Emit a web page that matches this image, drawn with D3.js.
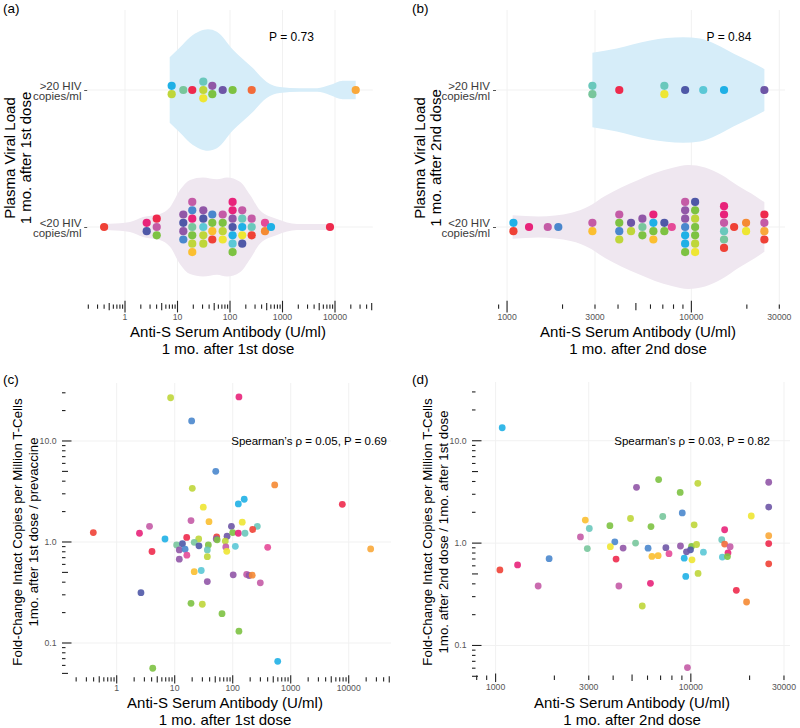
<!DOCTYPE html>
<html>
<head>
<meta charset="utf-8">
<script src="https://cdn.jsdelivr.net/npm/d3@7"></script>
<style>
body { margin: 0; background: #fff; }
svg { display: block; font-family: "Liberation Sans", Arial, Helvetica, sans-serif; }
</style>
</head>
<body>
<svg id="fig" width="800" height="728"></svg>
<script>
// ---------- data ----------
var rows = [">20", "<20"];
var rowText = { ">20": [">20 HIV", "copies/ml"], "<20": ["<20 HIV", "copies/ml"] };

// (a) anti-S after 1st dose, beeswarm columns (top to bottom within a column)
var aHiVal = [7.74, 7.74, 12.9, 19.1, 31, 31, 31, 46, 46, 72.6, 112, 259, 24800];
var aHiCol = ["sky", "lime", "mint", "crimson", "teal", "lime", "yellow", "purple", "green", "violet", "green", "vermilion", "amber"];
var aLoVal = [0.40,
  2.59, 2.59,
  4.02, 4.02, 4.02,
  12.9, 12.9, 12.9, 12.9,
  19.1, 19.1, 19.1, 19.1, 19.1, 19.1, 19.1,
  31, 31, 31, 31, 31,
  46, 46, 46, 46,
  72.6, 72.6, 72.6, 72.6,
  112, 112, 112, 112, 112, 112, 112,
  171, 171, 171, 171, 171,
  259, 259, 259,
  464, 464,
  604,
  8030];
var aLoCol = ["red",
  "pink", "indigo",
  "crimson", "magenta", "green",
  "purple", "indigo", "purple", "blue",
  "magenta", "blue", "pink", "mint", "green", "lime", "gold",
  "purple", "indigo", "cyan", "lime", "lime",
  "blue", "green", "gold", "red",
  "magenta", "green", "lime", "yellow",
  "pink", "pink", "purple", "indigo", "sky", "cyan", "green",
  "magenta", "teal", "sky", "yellow", "indigo",
  "magenta", "teal", "red",
  "hotpink", "orange",
  "sky",
  "crimson"];

// (b) anti-S after 2nd dose
var bHiVal = [2904, 2904, 4063, 7136, 7136, 9250, 11600, 15040, 24900];
var bHiCol = ["teal", "mint", "crimson", "teal", "yellow", "indigo", "cyan", "sky", "violet"];
var bLoVal = [1083, 1083, 1316, 1663, 1897,
  2904, 2904,
  4063, 4063, 4063, 4063,
  4706, 4706,
  5424, 5424, 5424,
  6220, 6220, 6220, 6220,
  7136, 7136,
  7830,
  9250, 9250, 9250, 9250, 9250, 9250, 9250,
  10480, 10480, 10480, 10480, 10480, 10480, 10480,
  15040, 15040, 15040, 15040, 15040, 15040,
  17060,
  19810, 19810,
  24900, 24900, 24900, 24900];
var bLoCol = ["sky", "red", "pink", "magenta", "blue",
  "magenta", "gold",
  "magenta", "green", "blue", "lime",
  "violet", "lime",
  "purple", "mint", "green",
  "pink", "sky", "green", "gold",
  "indigo", "green",
  "hotpink",
  "magenta", "purple", "purple", "blue", "sky", "sky", "green",
  "indigo", "green", "lime", "green", "green", "lime", "yellow",
  "pink", "pink", "magenta", "teal", "mint", "red",
  "red",
  "orange", "yellow",
  "crimson", "magenta", "amber", "red"];

// violin outlines: [antibody U/ml, relative density]
var aHiViolin = [[7.1, 0.53], [11.2, 0.69], [17.3, 0.85], [26.9, 0.95], [38, 0.98], [56.2, 0.94], [114, 0.65],
  [275, 0.35], [500, 0.13], [890, 0.05], [2140, 0.03], [4570, 0.03], [7940, 0.08], [14100, 0.15], [24800, 0.15]];
var aLoViolin = [[0.40, 0.05], [0.52, 0.053], [1.24, 0.08], [2.2, 0.16], [4.6, 0.21], [7.2, 0.32], [11.2, 0.6],
  [17.3, 0.76], [30.6, 0.8], [56.5, 0.77], [87.7, 0.8], [155, 0.73], [240, 0.52], [372, 0.27], [785, 0.13],
  [1890, 0.05], [5890, 0.05], [8030, 0.05]];
var bHiViolin = [[2904, 0.6], [3940, 0.67], [5970, 0.8], [9020, 0.85], [11140, 0.83], [13740, 0.73],
  [16900, 0.59], [20800, 0.46], [24900, 0.34]];
var bLoViolin = [[1072, 0.19], [1480, 0.17], [2240, 0.23], [2760, 0.33], [3400, 0.5], [4190, 0.64], [5150, 0.76],
  [6350, 0.87], [7830, 0.95], [9640, 1.0], [11860, 0.96], [14620, 0.84], [17990, 0.66], [22180, 0.5], [24900, 0.4]];

// (c) fold change vs anti-S after 1st dose
var cX = [8.5, 128, 19.6, 51, 530, 20.1, 158, 125, 7760, 31.1, 19.1, 39, 3.68, 95, 146, 266, 0.395, 2.47, 6.8, 16.1,
  221, 25.9, 53, 52, 80, 100, 125, 163, 54, 74.5, 10.8, 13.6, 21.7, 26.2, 38, 111, 12.0, 15.1, 36.5, 76,
  79, 401, 4.06, 16.2, 12.0, 36.5, 23900, 21.7, 28.7, 36.5, 102, 174, 192, 217, 299, 2.62, 19.1, 29.9, 65.4, 128,
  597, 4.18];
var cY = [26.8, 27.3, 15.8, 5.01, 3.67, 3.40, 2.65, 2.38, 2.36, 2.21, 1.63, 1.59, 1.43, 1.43, 1.57, 1.43, 1.24, 1.22, 1.07, 1.11,
  1.33, 1.07, 1.12, 1.07, 1.14, 1.24, 1.22, 1.22, 1.05, 1.02, 0.934, 0.962, 0.993, 0.917, 0.934, 0.906, 0.834, 0.847, 0.834, 0.892,
  0.809, 0.886, 0.805, 0.740, 0.676, 0.715, 0.853, 0.508, 0.522, 0.406, 0.473, 0.477, 0.466, 0.469, 0.394, 0.315, 0.247, 0.242, 0.195, 0.131,
  0.0659, 0.0562];
var cCol = ["lime", "pink", "blue", "blue", "orange", "lime", "sky", "sky", "crimson", "yellow", "magenta", "gold", "magenta", "violet", "yellow", "teal", "red", "pink", "sky", "crimson",
  "red", "lime", "red", "purple", "violet", "green", "pink", "teal", "green", "lime", "mint", "indigo", "mint", "indigo", "green", "cyan", "purple", "blue", "teal", "magenta",
  "yellow", "hotpink", "crimson", "hotpink", "purple", "lime", "amber", "gold", "cyan", "purple", "purple", "magenta", "purple", "orange", "magenta", "indigo", "green", "lime", "green", "green",
  "sky", "green"];

// (d) fold change vs anti-S after 2nd dose
var dX = [1081, 5270, 6840, 8820, 10860, 25060, 25060, 20400, 9040, 2880, 3020, 3850, 4910, 6250, 7180, 10400, 25060, 14900, 2720, 2950,
  4080, 3870, 4500, 5210, 6040, 7450, 8850, 10090, 10700, 9960, 9500, 11600, 14400, 14900, 15900, 15500, 14500, 15400, 25060, 25060,
  1880, 4140, 6320, 6800, 7730, 9250, 10140, 9420, 10890, 4280, 6210, 17100, 1052, 1296, 1652, 5640, 9610, 19300];
var dY = [13.4, 3.51, 4.18, 3.13, 3.84, 3.93, 2.25, 1.84, 1.97, 1.68, 1.39, 1.48, 1.74, 1.45, 1.82, 1.51, 1.18, 1.35, 1.15, 0.885,
  1.03, 0.924, 0.895, 1.0, 0.893, 0.903, 0.937, 0.93, 0.969, 0.860, 0.822, 0.816, 1.08, 0.978, 0.924, 0.803, 0.731, 0.739, 0.989, 0.627,
  0.705, 0.698, 0.742, 0.754, 0.789, 0.713, 0.686, 0.473, 0.506, 0.381, 0.405, 0.346, 0.547, 0.612, 0.381, 0.243, 0.0608, 0.266];
var dCol = ["sky", "purple", "green", "green", "lime", "purple", "violet", "yellow", "blue", "gold", "teal", "green", "lime", "green", "mint", "lime", "amber", "pink", "magenta", "mint",
  "blue", "yellow", "purple", "mint", "blue", "violet", "purple", "green", "lime", "indigo", "violet", "cyan", "teal", "vermilion", "magenta", "pink", "cyan", "green", "crimson", "red",
  "blue", "crimson", "gold", "gold", "hotpink", "sky", "yellow", "sky", "lime", "magenta", "pink", "crimson", "red", "pink", "magenta", "lime", "magenta", "orange"];

var ticks1st = [1, 10, 100, 1000, 10000];
var ticks2nd = [1000, 3000, 10000, 30000];
var ticksFold = [0.1, 1, 10];
var ticksFoldText = ["0.1", "1.0", "10.0"];

// ---------- styles ----------
var palette = {
  red: "#ef4136", crimson: "#ee2a4d", pink: "#e8237a", hotpink: "#e54a98", magenta: "#c45ba6",
  purple: "#9157a7", violet: "#6e56a6", indigo: "#4f58a7", blue: "#4a87cd", sky: "#1fb0e6",
  cyan: "#5bc8d6", teal: "#6ac8bc", mint: "#78c69c", green: "#7dc242", lime: "#bfd63a",
  yellow: "#eee633", gold: "#fbbf30", amber: "#f9a83a", orange: "#f58a33", vermilion: "#f26b3a"
};
var violinFill = { ">20": "#d6edf9", "<20": "#efe7f0" };
var gridCol = "#f1f1f1";

var svg = d3.select("#fig");

// all m*10^k values inside a log domain
function logTicks(dom) {
  var out = [];
  for (var k = Math.floor(Math.log10(dom[0])); k <= Math.ceil(Math.log10(dom[1])); k++) {
    for (var m = 1; m <= 9; m++) {
      var v = +(m * Math.pow(10, k)).toPrecision(6);
      if (v >= dom[0] && v <= dom[1]) out.push({ v: v, m: m });
    }
  }
  return out;
}
function tickLen(m, s, mid, l) { return m == 1 ? l : (m == 5 ? mid : s); }

function label(x, y, str, size, anchor, fill) {
  return svg.append("text").attr("x", x).attr("y", y).attr("font-size", size)
    .attr("text-anchor", anchor || "start").attr("fill", fill || "#000").text(str);
}
function vlabel(x, y, str, size) {
  return svg.append("text").attr("transform", "translate(" + x + "," + y + ") rotate(-90)")
    .attr("font-size", size).attr("text-anchor", "middle").attr("fill", "#000").text(str);
}

// x axis made of log ticks plus labels
function xLogAxis(x, yc, halfs, labels, labelY) {
  var t = logTicks(x.domain());
  svg.append("g").selectAll("line").data(t).enter().append("line")
    .attr("x1", function (d) { return x(d.v); }).attr("x2", function (d) { return x(d.v); })
    .attr("y1", function (d) { return yc - tickLen(d.m, halfs[0], halfs[1], halfs[2]); })
    .attr("y2", function (d) { return yc + tickLen(d.m, halfs[0], halfs[1], halfs[2]); })
    .attr("stroke", "#222").attr("stroke-width", 1.1);
  svg.append("g").selectAll("text").data(labels).enter().append("text")
    .attr("x", function (d) { return x(d); }).attr("y", labelY)
    .attr("text-anchor", "middle").attr("font-size", 8.7).attr("fill", "#555")
    .text(function (d) { return String(d); });
}

// beeswarm + violin panel
function swarmPanel(o) {
  var x = d3.scaleLog().domain(o.xDomain).range(o.xRange);
  var y = d3.scalePoint().domain(rows).range(o.yRows);
  var w = d3.scaleLinear().domain([0, 1]).range([0, 62]);
  var step = 8.35;

  var grid = svg.append("g");
  grid.selectAll(".gv").data(o.ticks).enter().append("line")
    .attr("x1", function (d) { return x(d); }).attr("x2", function (d) { return x(d); })
    .attr("y1", o.top).attr("y2", o.bottom).attr("stroke", gridCol);
  grid.selectAll(".gh").data(rows).enter().append("line")
    .attr("x1", o.xRange[0]).attr("x2", o.xRange[1])
    .attr("y1", function (d) { return y(d); }).attr("y2", function (d) { return y(d); })
    .attr("stroke", gridCol);

  o.groups.forEach(function (gr) {
    var cy = y(gr.row);
    var area = d3.area()
      .x(function (d) { return x(d[0]); })
      .y0(function (d) { return cy - w(d[1]); })
      .y1(function (d) { return cy + w(d[1]); })
      .curve(d3.curveMonotoneX);
    svg.append("path").attr("d", area(gr.violin)).attr("fill", violinFill[gr.row]);

    // stack dots that share a value, centred on the row
    var pts = [];
    var cols = d3.group(d3.range(gr.vals.length), function (i) { return gr.vals[i]; });
    cols.forEach(function (idx) {
      idx.forEach(function (i, j) {
        pts.push({ v: gr.vals[i], c: gr.cols[i], off: (j - (idx.length - 1) / 2) * step });
      });
    });
    svg.append("g").selectAll("circle").data(pts).enter().append("circle")
      .attr("cx", function (d) { return x(d.v); })
      .attr("cy", function (d) { return cy + d.off; })
      .attr("r", 4.1)
      .attr("fill", function (d) { return palette[d.c]; });
  });

  // category labels and ticks
  rows.forEach(function (r) {
    var cy = y(r);
    label(o.catX, cy - 0.5, rowText[r][0], 11.5, "end", "#3a3a3a");
    label(o.catX, cy + 10, rowText[r][1], 11.5, "end", "#3a3a3a");
    svg.append("line").attr("x1", o.xRange[0] - 3).attr("x2", o.xRange[0])
      .attr("y1", cy + 0.5).attr("y2", cy + 0.5).attr("stroke", "#555").attr("stroke-width", 1);
  });

  xLogAxis(x, 306.6, [2.2, 3.6, 5.8], o.ticks, 320);
  label(o.titleX, 337, "Anti-S Serum Antibody (U/ml)", 15, "middle");
  label(o.titleX, 354, o.titleLine2, 15, "middle");
  vlabel(o.yTitleX[0], 158, "Plasma Viral Load", 15);
  vlabel(o.yTitleX[1], 158, o.titleLine2, 15);
  label(o.pX, 40.5, o.pText, 12, "middle");
  label(o.letterX, 12.5, o.letter, 13.5);
}

// scatter panel
function scatterPanel(o) {
  var x = d3.scaleLog().domain(o.xDomain).range(o.xRange);
  var y = d3.scaleLog().domain([0.0411, 37.5]).range(o.yRange);

  var grid = svg.append("g");
  grid.selectAll(".gv").data(o.ticks).enter().append("line")
    .attr("x1", function (d) { return x(d); }).attr("x2", function (d) { return x(d); })
    .attr("y1", o.yRange[1]).attr("y2", o.yRange[0]).attr("stroke", gridCol);
  grid.selectAll(".gh").data(ticksFold).enter().append("line")
    .attr("x1", o.xRange[0]).attr("x2", o.xRange[1])
    .attr("y1", function (d) { return y(d); }).attr("y2", function (d) { return y(d); })
    .attr("stroke", gridCol);

  svg.append("g").selectAll("circle").data(d3.range(o.xs.length)).enter().append("circle")
    .attr("cx", function (i) { return x(o.xs[i]); })
    .attr("cy", function (i) { return y(o.ys[i]); })
    .attr("r", 3.4)
    .attr("fill", function (i) { return palette[o.cs[i]]; })
    .attr("fill-opacity", 0.9);

  // y log ticks from the panel's left edge
  var t = logTicks(y.domain());
  var x0 = o.xRange[0];
  svg.append("g").selectAll("line").data(t).enter().append("line")
    .attr("x1", x0).attr("x2", function (d) { return x0 + tickLen(d.m, 3.5, 6, 9.5); })
    .attr("y1", function (d) { return y(d.v); }).attr("y2", function (d) { return y(d.v); })
    .attr("stroke", "#222").attr("stroke-width", 1.1);
  svg.append("g").selectAll("text").data(ticksFold).enter().append("text")
    .attr("x", x0 - 5.5).attr("y", function (d) { return y(d) + 3; })
    .attr("text-anchor", "end").attr("font-size", 8.7).attr("fill", "#555")
    .text(function (d, i) { return ticksFoldText[i]; });

  xLogAxis(x, o.axisY, [2.2, 3.2, 4.2], o.ticks, o.axisY + 12);
  label(o.titleX, 707.5, "Anti-S Serum Antibody (U/ml)", 15, "middle");
  label(o.titleX, 724.5, o.titleLine2, 15, "middle");
  vlabel(o.yTitleX[0], 532, "Fold-Change Intact Copies per Million T-Cells", 13.3);
  vlabel(o.yTitleX[1], 532, o.yLine2, 13.3);
  label(o.statX, 445, o.statText, 11.5, "end");
  label(o.letterX, 384, o.letter, 13.5);
}

swarmPanel({
  xDomain: [0.1905, 52480], xRange: [87.2, 372.8], yRows: [90, 227], top: 10, bottom: 312,
  ticks: ticks1st, catX: 81.5, titleX: 228, titleLine2: "1 mo. after 1st dose", yTitleX: [15, 31],
  pX: 291.5, pText: "P = 0.73", letter: "(a)", letterX: 3,
  groups: [
    { row: ">20", vals: aHiVal, cols: aHiCol, violin: aHiViolin },
    { row: "<20", vals: aLoVal, cols: aLoCol, violin: aLoViolin }
  ]
});

swarmPanel({
  xDomain: [871, 32210], xRange: [496, 785], yRows: [90, 227], top: 10, bottom: 312,
  ticks: ticks2nd, catX: 490, titleX: 638, titleLine2: "1 mo. after 2nd dose", yTitleX: [425, 441],
  pX: 729, pText: "P = 0.84", letter: "(b)", letterX: 412,
  groups: [
    { row: ">20", vals: bHiVal, cols: bHiCol, violin: bHiViolin },
    { row: "<20", vals: bLoVal, cols: bLoCol, violin: bLoViolin }
  ]
});

scatterPanel({
  xDomain: [0.114, 53580], xRange: [62, 391], yRange: [682, 383], axisY: 679.4,
  xs: cX, ys: cY, cs: cCol, ticks: ticks1st, titleX: 225, titleLine2: "1 mo. after 1st dose",
  yTitleX: [22, 38], yLine2: "1mo. after 1st dose / prevaccine",
  statX: 387, statText: "Spearman\u2019s \u03c1 = 0.05, P = 0.69", letter: "(c)", letterX: 3
});

scatterPanel({
  xDomain: [757, 32210], xRange: [472, 790], yRange: [685, 382], axisY: 677.7,
  xs: dX, ys: dY, cs: dCol, ticks: ticks2nd, titleX: 632, titleLine2: "1 mo. after 2nd dose",
  yTitleX: [432, 448], yLine2: "1mo. after 2nd dose / 1mo. after 1st dose",
  statX: 770, statText: "Spearman\u2019s \u03c1 = 0.03, P = 0.82", letter: "(d)", letterX: 412
});
</script>
</body>
</html>
